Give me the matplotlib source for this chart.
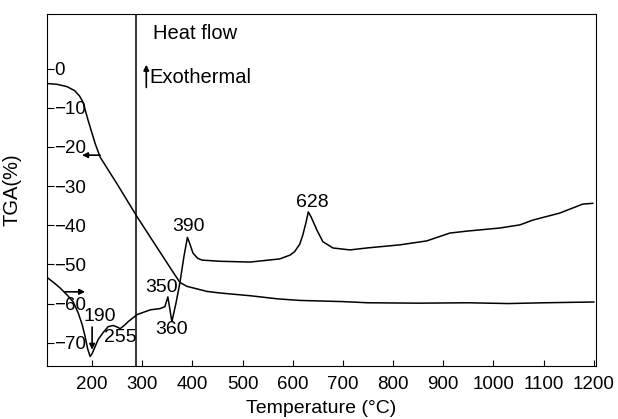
import matplotlib
matplotlib.use('Agg')
import matplotlib.pyplot as plt

plt.rcParams['font.family'] = ['Liberation Sans', 'DejaVu Sans']

# TGA curve (weight loss, %)
temp_tga = [110, 130, 150, 165, 175, 182, 192, 206, 216, 250, 290, 330, 360, 375, 389,
            429, 455, 515, 570, 614, 700, 750, 850, 950, 1030, 1100, 1200]
tga = [-3.8, -4.0, -4.6, -5.6, -7.0, -8.6, -13.2, -19.1, -22.6, -29.5, -37.9, -45.8, -51.7,
       -54.6, -55.6, -56.9, -57.3, -58.0, -58.8, -59.2, -59.5, -59.8, -59.9, -59.8, -60.0,
       -59.8, -59.6]

# heat flow curve (drawn on the same scale as in the figure)
temp_dta = [110, 125, 136, 150, 162, 172, 180, 186, 191, 196, 200, 206, 212, 222, 232, 242,
            250, 256, 264, 272, 290, 316, 335, 345, 351, 359, 367, 375, 383, 390, 395, 401,
            410, 419, 455, 515, 574, 595, 604, 614, 620, 626, 631, 637, 648, 660, 680, 714,
            748, 814, 867, 913, 947, 1013, 1053, 1078, 1132, 1178, 1198]
dta = [-53.3, -54.8, -56.0, -57.8, -59.5, -62.3, -65.3, -68.4, -71.5, -73.5, -72.8, -71.0,
       -69.2, -67.4, -65.9, -65.6, -66.0, -66.4, -65.6, -64.6, -62.8, -61.6, -61.3, -60.8,
       -58.3, -64.6, -60.0, -54.7, -48.0, -43.1, -44.8, -47.1, -48.4, -48.9, -49.2, -49.4,
       -48.6, -47.6, -46.7, -44.8, -42.5, -39.5, -36.6, -38.0, -41.2, -44.2, -45.8, -46.3,
       -45.8, -45.0, -44.0, -42.0, -41.5, -40.7, -39.9, -38.7, -36.9, -34.6, -34.4]

# peak labels
peak_labels = ['390', '628', '350', '360', '190', '255']
peak_x = [393, 638, 339, 359, 216, 256]
peak_y = [-40.2, -34.1, -56.0, -66.7, -63.4, -68.7]

x_ticks = [200, 300, 400, 500, 600, 700, 800, 900, 1000, 1100, 1200]
y_ticks = [0, -10, -20, -30, -40, -50, -60, -70]

fig = plt.figure(figsize=(6.18, 4.19), dpi=100)
ax = fig.add_axes([0.076, 0.126, 0.888, 0.841])

ax.plot(temp_tga, tga, color='black', linewidth=1.1)
ax.plot(temp_dta, dta, color='black', linewidth=1.1)
ax.axvline(288, color='black', linewidth=1.1)

ax.set_xlim(110, 1204)
ax.set_ylim(-76, 14)
ax.set_xticks(x_ticks)
ax.set_yticks(y_ticks)
ax.set_yticklabels(['0'] + ['\u2212%d' % abs(v) for v in y_ticks[1:]])
ax.tick_params(axis='x', direction='in', length=4, pad=7, labelsize=13.5)
ax.tick_params(axis='y', direction='in', length=5, pad=-5, labelsize=13.5)
for lbl in ax.get_yticklabels():
    lbl.set_horizontalalignment('left')

ax.set_xlabel('Temperature (\u00b0C)', fontsize=14)
ax.set_ylabel('TGA(%)', fontsize=14.5)
ax.xaxis.set_label_coords(0.5, -0.095)
ax.yaxis.set_label_coords(-0.046, 0.5)

for lab, x, y in zip(peak_labels, peak_x, peak_y):
    ax.text(x, y, lab, ha='center', va='center', fontsize=14)

ax.text(321, 8.9, 'Heat flow', ha='left', va='center', fontsize=14.5)
ax.text(315, -2.3, 'Exothermal', ha='left', va='center', fontsize=14.5)

arrow = dict(arrowstyle='-|>', color='black', lw=1.2, mutation_scale=8, shrinkA=0, shrinkB=0)
ax.annotate('', xy=(308, 1.0), xytext=(308, -4.8), arrowprops=arrow)
ax.annotate('', xy=(180, -22.1), xytext=(216, -22.1), arrowprops=arrow)
ax.annotate('', xy=(186, -57.0), xytext=(146, -57.0), arrowprops=arrow)
ax.annotate('', xy=(200, -71.8), xytext=(200, -66.0), arrowprops=arrow)

fig.savefig('out.png', dpi=100)
